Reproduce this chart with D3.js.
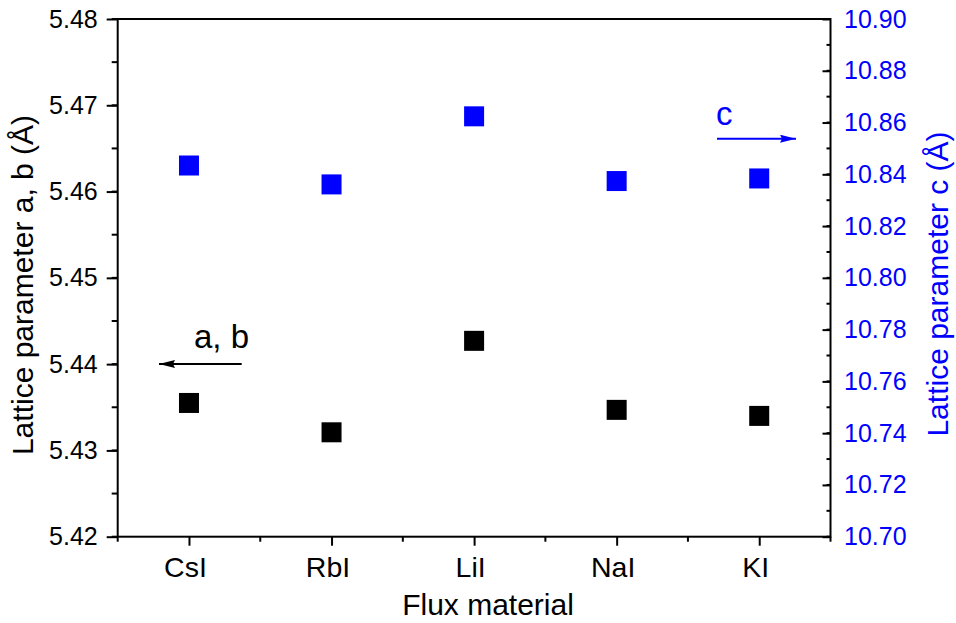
<!DOCTYPE html>
<html><head><meta charset="utf-8">
<script src="https://cdn.jsdelivr.net/npm/d3@7"></script>
<style>body{margin:0;background:#fff}svg{display:block}text{font-family:"Liberation Sans",Arial,sans-serif}</style>
</head><body>
<svg id="chart" width="956" height="623"></svg>
<script>
const categories = ["CsI","RbI","LiI","NaI","KI"];
const abValues = [5.4355, 5.4321, 5.4427, 5.4347, 5.4340];
const cValues = [10.8434, 10.8361, 10.8624, 10.8374, 10.8384];
const leftTicks = [5.42,5.43,5.44,5.45,5.46,5.47,5.48];
const rightTicks = [10.70,10.72,10.74,10.76,10.78,10.80,10.82,10.84,10.86,10.88,10.90];

const svg = d3.select("#chart");
const L = 117.7, R = 830.5, T = 19, B = 536.7;
const x = d3.scaleLinear().domain([0.5, 5.5]).range([L, R]);
const yL = d3.scaleLinear().domain([5.42, 5.48]).range([B, T]);
const yR = d3.scaleLinear().domain([10.70, 10.90]).range([B, T]);
const FS = 25, FC = 28.5, FT = 30, FA = 33;
const FF = '"Liberation Sans",Arial,sans-serif';

// minor ticks
const gMinor = svg.append("g").attr("stroke","#000").attr("stroke-width",2);
d3.range(5.42, 5.4801, 0.005).forEach(v=>{
  gMinor.append("line").attr("x1",L-6).attr("x2",L).attr("y1",yL(v)).attr("y2",yL(v));
});
d3.range(10.70, 10.9001, 0.01).forEach(v=>{
  gMinor.append("line").attr("x1",R-4).attr("x2",R).attr("y1",yR(v)).attr("y2",yR(v));
});
d3.range(0.5, 5.51, 1).forEach(v=>{
  gMinor.append("line").attr("x1",x(v)).attr("x2",x(v)).attr("y1",B).attr("y2",B+5);
});

// left axis
const axL = svg.append("g").attr("transform",`translate(${L},0)`)
  .call(d3.axisLeft(yL).tickValues(leftTicks).tickFormat(d3.format(".2f")).tickSize(11).tickPadding(9));
axL.select(".domain").remove();
axL.selectAll(".tick line").attr("stroke","#000").attr("stroke-width",2);
axL.selectAll("text").attr("font-size",FS).attr("fill","#000").attr("font-family",FF);

// right axis (ticks inward)
const axR = svg.append("g").attr("transform",`translate(${R},0)`)
  .call(d3.axisRight(yR).tickValues(rightTicks).tickFormat(d3.format(".2f")).tickSize(-8).tickPadding(22));
axR.select(".domain").remove();
axR.selectAll(".tick line").attr("stroke","#000").attr("stroke-width",2);
axR.selectAll("text").attr("font-size",FS).attr("fill","#0000ff").attr("x",13.5).attr("font-family",FF);

// bottom axis
const axB = svg.append("g").attr("transform",`translate(0,${B})`)
  .call(d3.axisBottom(x).tickValues([1,2,3,4,5]).tickFormat((d,i)=>categories[i]).tickSize(9).tickPadding(10));
axB.select(".domain").remove();
axB.selectAll(".tick line").attr("stroke","#000").attr("stroke-width",2);
axB.selectAll("text").attr("font-size",FC).attr("fill","#000").attr("font-family",FF)
  .attr("y",40.5).attr("dy",0).attr("x",-4);

// frame
svg.append("rect").attr("x",L).attr("y",T).attr("width",R-L).attr("height",B-T)
  .attr("fill","none").attr("stroke","#000").attr("stroke-width",2);

// points
const S = 20;
svg.append("g").selectAll("rect").data(abValues).join("rect")
  .attr("x",(d,i)=>x(i+1)-S/2).attr("y",d=>yL(d)-S/2).attr("width",S).attr("height",S).attr("fill","#000");
svg.append("g").selectAll("rect").data(cValues).join("rect")
  .attr("x",(d,i)=>x(i+1)-S/2).attr("y",d=>yR(d)-S/2).attr("width",S).attr("height",S).attr("fill","#0000ff");

// arrows
const defs = svg.append("defs");
function marker(id,color){
  defs.append("marker").attr("id",id).attr("viewBox","0 0 16 8").attr("refX",16).attr("refY",4)
    .attr("markerWidth",16).attr("markerHeight",8).attr("markerUnits","userSpaceOnUse").attr("orient","auto")
    .attr("preserveAspectRatio","none")
    .append("path").attr("d","M0,0 L16,4 L0,8 L2,4 Z").attr("fill",color);
}
marker("ab","#000"); marker("cm","#0000ff");
svg.append("line").attr("x1",241.7).attr("y1",364).attr("x2",159).attr("y2",364)
  .attr("stroke","#000").attr("stroke-width",2).attr("marker-end","url(#ab)");
svg.append("text").attr("x",194).attr("y",348).attr("font-size",FA).attr("fill","#000").text("a, b");
svg.append("line").attr("x1",717).attr("y1",138.7).attr("x2",796).attr("y2",138.7)
  .attr("stroke","#0000ff").attr("stroke-width",2).attr("marker-end","url(#cm)");
svg.append("text").attr("x",716).attr("y",125).attr("font-size",FA).attr("fill","#0000ff").text("c");

// titles
svg.append("text").attr("x",488).attr("y",615).attr("text-anchor","middle").attr("font-size",FT).attr("fill","#000").text("Flux material");
svg.append("text").attr("transform",`translate(33,285) rotate(-90)`).attr("text-anchor","middle").attr("font-size",FT).attr("fill","#000").text("Lattice parameter a, b (Å)");
svg.append("text").attr("transform",`translate(948,284) rotate(-90)`).attr("text-anchor","middle").attr("font-size",FT).attr("fill","#0000ff").text("Lattice parameter c (Å)");
</script>
</body></html>
